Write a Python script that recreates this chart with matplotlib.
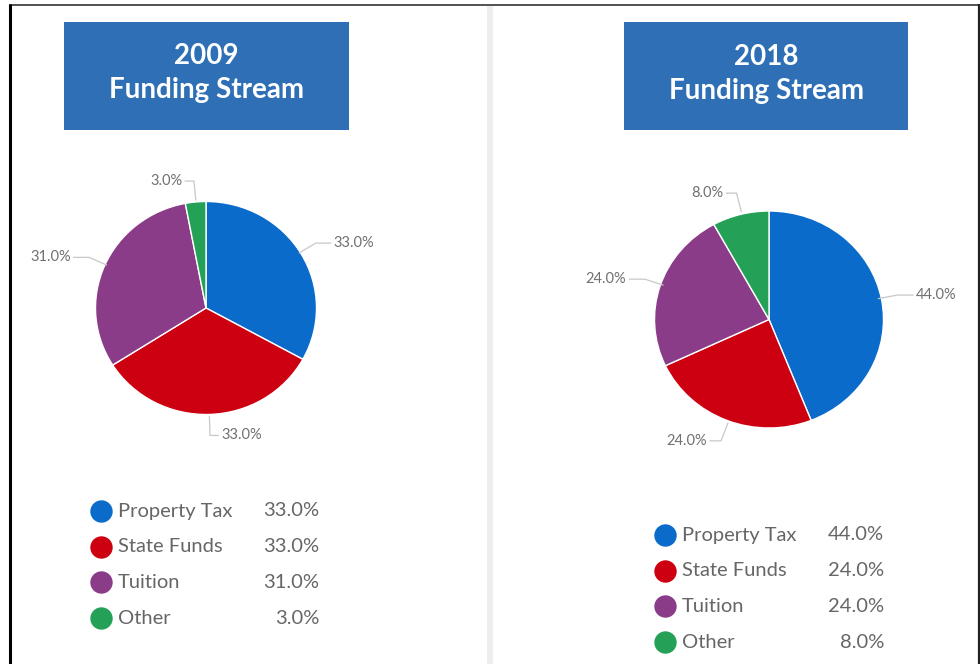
import numpy as np
import matplotlib.pyplot as plt
from matplotlib.patches import Rectangle

# datos
categories = ['Property Tax', 'State Funds', 'Tuition', 'Other']
values_2009 = [33.0, 33.0, 31.0, 3.0]
values_2018 = [44.0, 24.0, 24.0, 8.0]
years = ['2009', '2018']
colors = ['#0B6BCB', '#CC0010', '#8B3C88', '#24A157']

W, H = 980, 664
plt.rcParams['font.family'] = ['Lato', 'DejaVu Sans']

fig = plt.figure(figsize=(W / 100, H / 100), dpi=100, facecolor='white')
bg = fig.add_axes([0, 0, 1, 1])
bg.set_xlim(0, W)
bg.set_ylim(H, 0)
bg.axis('off')

# marco y separador
bg.plot([9, 979], [4.5, 4.5], color='#333333', lw=1.2, solid_capstyle='butt')
bg.plot([10, 10], [4, H], color='black', lw=2.2, solid_capstyle='butt')
bg.plot([978.5, 978.5], [4, H], color='#222222', lw=1.6, solid_capstyle='butt')
bg.add_patch(Rectangle((487, 6), 6, H, color='#EEEEEE', lw=0))

# paneles: caja de titulo, pie y leyenda
panels = [
    dict(year=years[0], vals=values_2009, box=(64, 22, 285, 108), tx=206.5, ty=(56, 90),
         c=(206, 308), r=(110.5, 106.5), leg_x=(101, 118, 319), leg_y=511),
    dict(year=years[1], vals=values_2018, box=(624, 22, 284, 108), tx=766, ty=(57, 91),
         c=(769, 319.5), r=(114.5, 108.5), leg_x=(665, 682, 884), leg_y=535),
]

for p in panels:
    x0, y0, bw, bh = p['box']
    bg.add_patch(Rectangle((x0, y0), bw, bh, color='#2E6FB5', lw=0))
    bg.text(p['tx'], p['ty'][0], p['year'], color='white', fontsize=20,
            fontweight='bold', ha='center', va='center')
    bg.text(p['tx'], p['ty'][1], 'Funding Stream', color='white', fontsize=20,
            fontweight='bold', ha='center', va='center')

    cx, cy = p['c']
    rx, ry = p['r']
    ax = fig.add_axes([(cx - rx) / W, 1 - (cy + ry) / H, 2 * rx / W, 2 * ry / H])
    ax.pie(p['vals'], colors=colors, startangle=90, counterclock=False, radius=1,
           wedgeprops=dict(edgecolor='white', linewidth=1))
    ax.set_aspect('auto')
    ax.set_xlim(-1, 1)
    ax.set_ylim(-1, 1)
    ax.axis('off')

    # etiquetas con lineas guia
    cum = 0
    rr = (rx + ry) / 2
    for v in p['vals']:
        th = np.deg2rad(90 - 3.6 * (cum + v / 2))
        cum += v
        ct, st = np.cos(th), np.sin(th)
        side = 1 if ct >= 0 else -1
        ex, ey = ct * rr, st * rr
        kx, ky = ct * (rr + 19), st * (rr + 19)
        hx = kx + side * (8 + 8 * abs(ct))
        ax.plot(np.array([ex, kx, hx]) / rx, np.array([ey, ky, ky]) / ry,
                color='#C8C8C8', lw=0.9, clip_on=False)
        ax.text((hx + side * 3) / rx, ky / ry, f'{v:.1f}%', color='#707070',
                fontsize=10.5, ha='left' if side > 0 else 'right', va='center',
                clip_on=False)

    # leyenda
    mx, lx, vx = p['leg_x']
    for i, (cat, v) in enumerate(zip(categories, p['vals'])):
        yy = p['leg_y'] + i * 35.7
        bg.scatter([mx], [yy], s=260, color=colors[i], lw=0, zorder=3)
        bg.text(lx, yy, cat, color='#666666', fontsize=14.5, ha='left', va='center')
        bg.text(vx, yy, f'{v:.1f}%', color='#666666', fontsize=14.5, ha='right', va='center')

fig.savefig('out.png', dpi=100, facecolor='white')
